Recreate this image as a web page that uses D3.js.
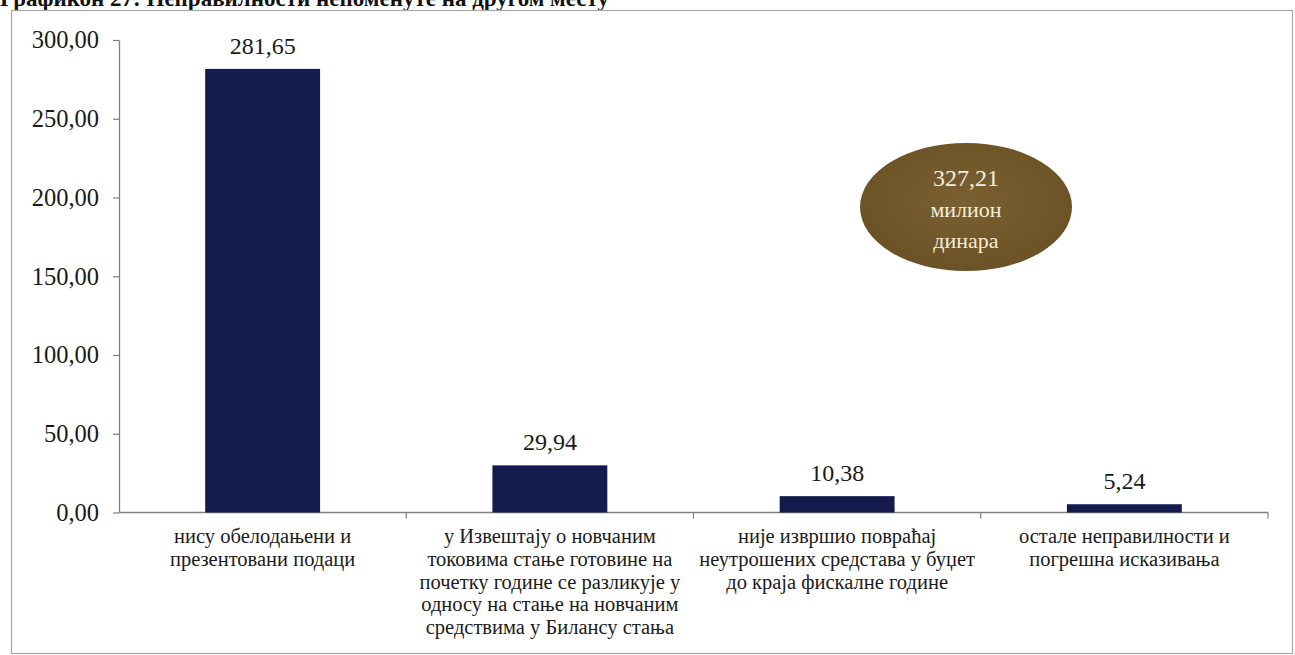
<!DOCTYPE html>
<html>
<head>
<meta charset="utf-8">
<script src="https://cdn.jsdelivr.net/npm/d3@7"></script>
<style>
  html, body { margin: 0; padding: 0; background: #fff; }
  svg { display: block; }
  text { font-family: "Liberation Serif", "Times New Roman", serif; }
</style>
</head>
<body>
<svg id="chart" width="1295" height="655"></svg>
<script>
// Неправилности непоменуте на другом месту (у милионима динара)
const categories = [
  ["нису обелодањени и", "презентовани подаци"],
  ["у Извештају о новчаним", "токовима стање готовине на", "почетку године се разликује у", "односу на стање на новчаним", "средствима у Билансу стања"],
  ["није извршио повраћај", "неутрошених средстава у буџет", "до краја фискалне године"],
  ["остале неправилности и", "погрешна исказивања"]
];
const values = [281.65, 29.94, 10.38, 5.24];
const yTicks = [0, 50, 100, 150, 200, 250, 300];
const totalLines = ["327,21", "милион", "динара"];
const titleText = "Графикон 27: Неправилности непоменуте на другом месту";

const svg = d3.select("#chart");
const fmt = v => d3.format(".2f")(v).replace(".", ",");

const margin = { left: 119, right: 1268, top: 40, bottom: 512.5 };

// Title (partially cut at the top edge)
svg.append("text")
  .attr("x", 0).attr("y", 6)
  .attr("font-size", 23).attr("font-weight", "bold")
  .attr("fill", "#111")
  .text(titleText);

// Chart frame
svg.append("rect")
  .attr("x", 11.5).attr("y", 10.5)
  .attr("width", 1281).attr("height", 643)
  .attr("fill", "none").attr("stroke", "#a8a8a8").attr("stroke-width", 1.2);

const x = d3.scaleBand()
  .domain(d3.range(categories.length))
  .range([margin.left, margin.right])
  .padding(0);

const y = d3.scaleLinear().domain([0, 300]).range([margin.bottom, margin.top]);

// Y axis
const yAxis = d3.axisLeft(y)
  .tickValues(yTicks)
  .tickFormat(fmt)
  .tickSize(6)
  .tickSizeOuter(0)
  .tickPadding(14);

const gy = svg.append("g")
  .attr("transform", `translate(${margin.left},0)`)
  .call(yAxis);
gy.select(".domain").attr("stroke", "#808080").attr("stroke-width", 1.3);
gy.selectAll(".tick line").attr("stroke", "#808080").attr("stroke-width", 1.2);
gy.selectAll(".tick text")
  .attr("font-size", 24.5).attr("fill", "#1a1a1a");

// X axis: baseline with ticks at category boundaries
svg.append("line")
  .attr("x1", margin.left).attr("x2", margin.right)
  .attr("y1", y(0)).attr("y2", y(0))
  .attr("stroke", "#808080").attr("stroke-width", 1.3);

svg.append("g").selectAll("line")
  .data(d3.range(1, categories.length + 1))
  .join("line")
  .attr("x1", i => x(i - 1) + x.bandwidth())
  .attr("x2", i => x(i - 1) + x.bandwidth())
  .attr("y1", y(0)).attr("y2", y(0) + 6)
  .attr("stroke", "#808080").attr("stroke-width", 1.2);

// Bars
const barW = x.bandwidth() * 0.4;
svg.append("g").selectAll("rect")
  .data(values)
  .join("rect")
  .attr("x", (d, i) => x(i) + (x.bandwidth() - barW) / 2)
  .attr("y", d => y(d))
  .attr("width", barW)
  .attr("height", d => y(0) - y(d))
  .attr("fill", "#151a4c");

// Value labels
svg.append("g").selectAll("text")
  .data(values)
  .join("text")
  .attr("x", (d, i) => x(i) + x.bandwidth() / 2)
  .attr("y", d => y(d) - 15)
  .attr("text-anchor", "middle")
  .attr("font-size", 24).attr("fill", "#1a1a1a")
  .text(fmt);

// Category labels
const catG = svg.append("g");
categories.forEach((lines, i) => {
  const t = catG.append("text")
    .attr("text-anchor", "middle")
    .attr("font-size", 20.5).attr("fill", "#1a1a1a");
  lines.forEach((ln, j) => {
    t.append("tspan")
      .attr("x", x(i) + x.bandwidth() / 2)
      .attr("y", 543 + j * 22.8)
      .text(ln);
  });
});

// Total bubble
const bubble = svg.append("g").attr("transform", "translate(966,207)");
const grad = svg.append("defs").append("radialGradient")
  .attr("id", "bubbleFill").attr("cx", "50%").attr("cy", "45%").attr("r", "60%");
grad.append("stop").attr("offset", "0%").attr("stop-color", "#7a6030");
grad.append("stop").attr("offset", "100%").attr("stop-color", "#6a5125");
bubble.append("ellipse")
  .attr("rx", 106).attr("ry", 64)
  .attr("fill", "url(#bubbleFill)");
totalLines.forEach((ln, j) => {
  bubble.append("text")
    .attr("x", 0).attr("y", -21 + j * 31)
    .attr("text-anchor", "middle")
    .attr("font-size", j === 0 ? 24 : 22)
    .attr("fill", "#f4ecd9")
    .text(ln);
});
</script>
</body>
</html>
